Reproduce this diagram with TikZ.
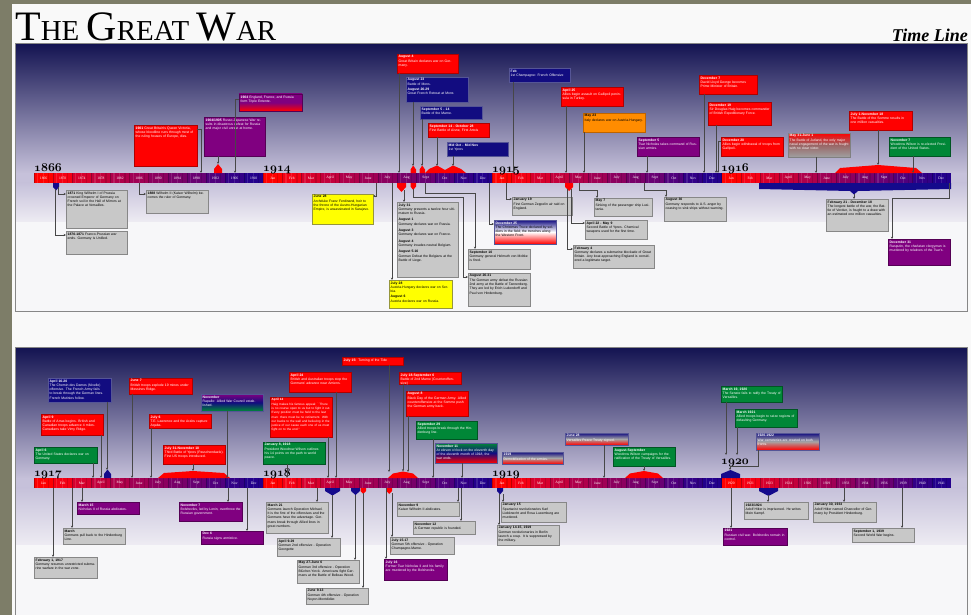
\documentclass[tikz,border=0pt]{standalone}
\usepackage{graphicx}
\usepackage{fontspec}
\setmainfont{Liberation Serif}
\newfontfamily\boxfont{Liberation Sans}
\usetikzlibrary{arrows.meta}
\definecolor{bgolive}{RGB}{125,125,104}
\definecolor{pagewhite}{RGB}{249,249,249}
\definecolor{navyA}{RGB}{20,20,82}
\definecolor{lavA}{RGB}{198,193,218}
\definecolor{lavB}{RGB}{238,236,243}
\definecolor{panelwhite}{RGB}{247,247,249}
\definecolor{framegray}{RGB}{135,135,135}
\definecolor{boxgray}{RGB}{200,200,200}
\definecolor{boxgrayd}{RGB}{135,135,135}
\definecolor{evred}{RGB}{255,0,0}
\definecolor{evredd}{RGB}{175,0,0}
\definecolor{evnavy}{RGB}{18,12,128}
\definecolor{evnavyd}{RGB}{85,85,150}
\definecolor{evpurple}{RGB}{128,0,128}
\definecolor{evpurpled}{RGB}{85,0,85}
\definecolor{evgreen}{RGB}{0,135,55}
\definecolor{evgreend}{RGB}{0,85,35}
\definecolor{evorange}{RGB}{255,140,0}
\definecolor{evoranged}{RGB}{190,100,0}
\definecolor{evyellow}{RGB}{255,255,0}
\definecolor{evyellowd}{RGB}{150,150,60}
\definecolor{mkblue}{RGB}{20,10,140}
\definecolor{mkred}{RGB}{255,0,0}
\definecolor{seg0}{RGB}{255,0,0}
\definecolor{seg1}{RGB}{245,0,20}
\definecolor{seg2}{RGB}{215,0,45}
\definecolor{seg3}{RGB}{195,0,60}
\definecolor{seg4}{RGB}{175,0,75}
\definecolor{seg5}{RGB}{160,0,85}
\definecolor{seg6}{RGB}{140,0,95}
\definecolor{seg7}{RGB}{120,0,105}
\definecolor{seg8}{RGB}{105,0,115}
\definecolor{seg9}{RGB}{80,0,125}
\definecolor{seg10}{RGB}{50,0,135}
\definecolor{seg11}{RGB}{35,0,140}

\newcommand\ev[8]{%
  \pgfmathsetmacro\evw{#4-#2}%
  \pgfmathsetmacro\evh{#5-#3}%
  \pgfmathsetmacro\evt{#4-#2-3}%
  \node[#6, anchor=north west, minimum width=\evw pt, minimum height=\evh pt, inner sep=0pt, outer sep=0pt] (#1) at (#2,#3) {};
  \node[evtext, text=#7, text width=\evt pt, anchor=north west] at ([xshift=1.5pt,yshift=-1.4pt]#1.north west) {#8};}

\newcommand\barsec[3]{%
  \foreach \lab [count=\i from 0] in {#3} {%
    \pgfmathsetmacro\xa{#1+\i*19.1}%
    \fill[seg\i] (\xa,#2) rectangle ++(19.15,10);
    \fill[white,opacity=.12] (\xa+3,#2) rectangle ++(1.2,10);
    \fill[white,opacity=.12] (\xa+9,#2) rectangle ++(0.8,10);
    \fill[black,opacity=.12] (\xa+14,#2) rectangle ++(1.2,10);
    \draw[black,opacity=.25,line width=.4pt] (\xa,#2) -- ++(0,10);
    \node[barlab] at (\xa+9.55,#2+5) {\lab};
  }}

\begin{document}
\begin{tikzpicture}[x=1pt,y=-1pt,
  conn/.style={draw=black!72, line width=.45pt, -{Stealth[length=2.4pt,width=2.2pt]}},
  gbox/.style={fill=boxgray, draw=boxgrayd, line width=.5pt},
  rbox/.style={fill=evred, draw=evredd, line width=.5pt},
  nbox/.style={fill=evnavy, draw=evnavyd, line width=.5pt},
  pbox/.style={fill=evpurple, draw=evpurpled, line width=.5pt},
  grbox/.style={fill=evgreen, draw=evgreend, line width=.5pt},
  obox/.style={fill=evorange, draw=evoranged, line width=.5pt},
  ybox/.style={fill=evyellow, draw=evyellowd, line width=.5pt},
  gradPR/.style={top color=evpurple, bottom color=evred, middle color=evpurple, draw=evpurpled, line width=.5pt},
  gradRG/.style={top color=evred, bottom color=gray!75, middle color=gray!80!red, draw=gray, line width=.5pt},
  gradNWR/.style={top color=evnavy, bottom color=evred, middle color=white, draw=evnavyd, line width=.5pt},
  gradPNG/.style={top color=evpurple, bottom color=evgreen, middle color=evnavy, draw=evnavyd, line width=.5pt},
  gradGNR/.style={top color=evgreen, bottom color=evred, middle color=evnavy, draw=evnavyd, line width=.5pt},
  gradNGR/.style={top color=evnavy, bottom color=evred, middle color=gray!70, draw=evnavyd, line width=.5pt},
  evtext/.style={inner sep=0pt, align=left, font=\boxfont\fontsize{3.4}{4.3}\selectfont},
  barlab/.style={text=white, font=\fontsize{3.6}{4}\selectfont, inner sep=0pt},
  yearlab/.style={inner sep=0pt, anchor=base west, font=\fontsize{12}{12}\usefont{OML}{cmm}{b}{it}},
]
\useasboundingbox (0,0) rectangle (971,615);
% page
\fill[bgolive] (0,0) rectangle (971,615);
\fill[pagewhite] (12,4) rectangle (971,615);
% title
\node[anchor=south west, inner sep=0pt] (title) at (15,41) {\resizebox{261pt}{!}{\fontsize{42}{42}\selectfont T\fontsize{29}{29}\selectfont HE \fontsize{42}{42}\selectfont G\fontsize{29}{29}\selectfont REAT \fontsize{42}{42}\selectfont W\fontsize{29}{29}\selectfont AR}};
\node[anchor=south east, inner sep=0pt] (subtitle) at (968,42) {\fontsize{18}{18}\selectfont\bfseries\itshape Time Line};

% ---------- panel 1 ----------
\shade[top color=navyA, bottom color=lavA] (16,44) rectangle (967,173.5);
\fill[lavA] (16,173) rectangle (967,183);
\shade[top color=lavA, bottom color=lavB] (16,182.8) rectangle (967,222);
\fill[panelwhite] (16,221.8) rectangle (967,311);
\draw[framegray, line width=1.3pt] (15.5,43.5) rectangle (967.5,311.5);

% ---------- panel 2 ----------
\shade[top color=navyA, bottom color=lavA] (16,348) rectangle (967,478.5);
\fill[lavA] (16,478) rectangle (967,488);
\shade[top color=lavA, bottom color=lavB] (16,487.8) rectangle (967,545);
\fill[panelwhite] (16,544.8) rectangle (967,616);
\draw[framegray, line width=1.3pt] (15.5,616) -- (15.5,347.5) -- (967.5,347.5) -- (967.5,616);

% ---------- bars ----------
\barsec{34}{173}{1866,1870,1874,1878,1882,1886,1890,1894,1898,1902,1906,1910}
\barsec{263.2}{173}{Jan,Feb,Mar,April,May,June,July,Aug,Sept,Oct,Nov,Dec}
\barsec{492.4}{173}{Jan,Feb,Mar,April,May,June,July,Aug,Sept,Oct,Nov,Dec}
\barsec{721.6}{173}{Jan,Feb,Mar,April,May,June,July,Aug,Sept,Oct,Nov,Dec}
\barsec{34}{478}{Jan,Feb,Mar,April,May,June,July,Aug,Sept,Oct,Nov,Dec}
\barsec{263.2}{478}{Jan,Feb,Mar,April,May,June,July,Aug,Sept,Oct,Nov,Dec}
\barsec{492.4}{478}{Jan,Feb,Mar,April,May,June,July,Aug,Sept,Oct,Nov,Dec}
\barsec{721.6}{478}{1920,1921,1923,1924,1926,1929,1933,1934,1936,1939,1940,1941}

% year labels
\node[yearlab] (y1866) at (34,171) {1866};
\node[yearlab] (y1914) at (263,171) {1914};
\node[yearlab] (y1915) at (492,172) {1915};
\node[yearlab] (y1916) at (721,171) {1916};
\node[yearlab] (y1917) at (34,476) {1917};
\node[yearlab] (y1918) at (263,476) {1918};
\node[yearlab] (y1919) at (492,476) {1919};
\node[yearlab] (y1920) at (721,464) {1920};

% ---------- markers panel 1 ----------
\fill[mkblue] (53,183) -- (59,183) -- (59,187) -- (56,190.5) -- (53,187) -- cycle;
\fill[mkred] (214,173) -- (214,169) -- (218,164) -- (222,169) -- (222,173) -- cycle;
\fill[mkred] (397,183) -- (406,183) -- (406,187) -- (401.5,192) -- (397,187) -- cycle;
\fill[mkred] (410.5,183) -- (416,183) -- (416,186.5) -- (413.2,190) -- (410.5,186.5) -- cycle;
\fill[mkred] (410.5,173) -- (410.5,169.5) -- (413.2,165.5) -- (416,169.5) -- (416,173) -- cycle;
\fill[mkred] (419.5,173) -- (419.5,169.5) -- (422.2,165.5) -- (425,169.5) -- (425,173) -- cycle;
\fill[mkred] (425,173) -- (429,169) -- (437,165.5) -- (445,170) -- (453,165.5) -- (461,169) -- (466,173) -- cycle;
\fill[mkred] (565,183) -- (573,183) -- (573,187) -- (569,191) -- (565,187) -- cycle;
\fill[mkred] (835,173) -- (840,168) -- (878,165) -- (916,168) -- (922,173) -- cycle;
\fill[mkblue] (759,183) -- (951,183) -- (951,189) -- (858,191) -- (854,194.5) -- (850,191) -- (759,189) -- cycle;

% ---------- markers panel 2 ----------
\fill[mkblue] (104,478) -- (104,474) -- (107.5,469.5) -- (111,474) -- (111,478) -- cycle;
\fill[mkred] (158,478) -- (164,473) -- (193,471) -- (224,473) -- (230,478) -- cycle;
\fill[mkred] (388,478) -- (393,473.5) -- (403,471.5) -- (413,473.5) -- (418,478) -- cycle;
\fill[mkred] (625,478) -- (630,473.5) -- (644,471) -- (658,473.5) -- (663,478) -- cycle;
\fill[mkblue] (721,478) -- (721,474) -- (730.5,470) -- (740,474) -- (740,478) -- cycle;
\fill[mkblue] (325,488) -- (340,488) -- (340,491) -- (332.5,495.5) -- (325,491) -- cycle;
\fill[mkblue] (351,488) -- (360,488) -- (360,491) -- (355.5,495) -- (351,491) -- cycle;
\fill[mkred] (360.5,488) -- (366,488) -- (366,491) -- (363.2,494) -- (360.5,491) -- cycle;
\fill[mkred] (386.5,488) -- (392,488) -- (392,491) -- (389.2,494) -- (386.5,491) -- cycle;
\fill[mkblue] (497,488) -- (503,488) -- (503,491) -- (500,494.5) -- (497,491) -- cycle;
\fill[mkblue] (759,488) -- (778,488) -- (778,491) -- (768.5,496) -- (759,491) -- cycle;

% ---------- events panel 1, above ----------
\ev{T1}{134}{125}{197}{166}{rbox}{white}{\textbf{1901} Great Britain's Queen Victoria, whose bloodline runs through most of the ruling houses of Europe, dies.}
\ev{T2}{204}{117}{265}{156}{pbox}{white}{\textbf{1904/1905} Russo-Japanese War results in disastrous defeat for Russia and major civil unrest at home.}
\ev{T3}{239}{94}{302}{111}{gradPR}{white}{\textbf{1904} England, France, and Russia form Triple Entente.}
\ev{T4}{397}{54}{458}{73}{rbox}{white}{\textbf{August 4}\\Great Britain declares war on Germany.}
\ev{T5}{406}{77}{468}{102}{nbox}{white}{\textbf{August 23}\\Battle of Mons.\\[1pt]\textbf{August 26-29}\\Great French Retreat at Mons}
\ev{T6}{420}{106}{482}{119}{nbox}{white}{\textbf{September 5 - 14}\\Battle of the Marne.}
\ev{T7}{428}{123}{489}{137}{rbox}{white}{\textbf{September 14 - October 28}\\First Battle of Aisne, First Artois}
\ev{T8}{447}{142}{508}{156}{nbox}{white}{\textbf{Mid Oct - Mid Nov}\\1st Ypres}
\ev{T9}{509}{68}{570}{82}{nbox}{white}{\textbf{Feb}\\1st Champagne: French Offensive}
\ev{T10}{561}{87}{623}{106}{rbox}{white}{\textbf{April 25}\\Allies begin assault on Gallipoli peninsula in Turkey.}
\ev{T11}{583}{113}{645}{132}{obox}{black}{\textbf{May 23}\\Italy declares war on Austria-Hungary.}
\ev{T12}{637}{137}{699}{156}{pbox}{white}{\textbf{September 5}\\Tsar Nicholas takes command of Russian armies.}
\ev{T13}{699}{75}{757}{94}{rbox}{white}{\textbf{December 7}\\David Lloyd George becomes Prime Minister of Britain.}
\ev{T14}{708}{102}{771}{125}{rbox}{white}{\textbf{December 19}\\Sir Douglas Haig becomes commander of British Expeditionary Force.}
\ev{T15}{721}{137}{783}{156}{rbox}{white}{\textbf{December 20}\\Allies begin withdrawal of troops from Gallipoli.}
\ev{T16}{788}{133}{850}{157}{gradRG}{white}{\textbf{May 31-June 1}\\The Battle of Jutland, the only major naval engagement of the war is fought with no clear victor.}
\ev{T17}{849}{111}{912}{130}{rbox}{white}{\textbf{July 1-November 18}\\The Battle of the Somme results in one million casualties.}
\ev{T18}{889}{137}{950}{156}{grbox}{white}{\textbf{November 7}\\Woodrow Wilson is re-elected President of the United States.}

% ---------- events panel 1, below ----------
\ev{B1}{66}{190}{127}{228}{gbox}{black}{\textbf{1871} King Wilhelm I of Prussia crowned Emperor of Germany on French soil in the Hall of Mirrors at the Palace at Versailles.}
\ev{B2}{66}{231}{127}{254}{gbox}{black}{\textbf{1870-1871} Franco-Prussian war ends. Germany is Unified.}
\ev{B3}{146}{190}{208}{213}{gbox}{black}{\textbf{1888} Wilhelm II (Kaiser Wilhelm) becomes the ruler of Germany.}
\ev{B4}{312}{194}{373}{224}{ybox}{black}{\textbf{June 28}\\Archduke Franz Ferdinand, heir to the throne of the Austro-Hungarian Empire, is assassinated in Sarajevo.}
\ev{B5}{397}{202}{458}{277}{gbox}{black}{\textbf{July 31}\\Germany presents a twelve hour ultimatum to Russia.\\[2pt]\textbf{August 1}\\Germany declares war on Russia.\\[2pt]\textbf{August 3}\\Germany declares war on France.\\[2pt]\textbf{August 4}\\Germany invades neutral Belgium.\\[2pt]\textbf{August 5-16}\\German Defeat the Belgians at the Battle of Liege.}
\ev{B6}{389}{280}{452}{308}{ybox}{black}{\textbf{July 28}\\Austria-Hungary declares war on Serbia.\\[1pt]\textbf{August 6}\\Austria declares war on Russia.}
\ev{B7}{468}{249}{530}{269}{gbox}{black}{\textbf{September 10}\\Germany general Helmuth von Moltke is fired.}
\ev{B8}{468}{273}{530}{306}{gbox}{black}{\textbf{August 26-31}\\The German army defeat the Russian 2nd army at the Battle of Tannenberg. They are led by Erich Ludendorff and Paul von Hindenburg.}
\ev{B9}{494}{220}{556}{244}{gradNWR}{black}{\textcolor{white}{\textbf{December 25}}\\The Christmas Truce declared by soldiers in the field; the trenches along the Western Front.}
\ev{B10}{512}{197}{572}{215}{gbox}{black}{\textbf{January 19}\\First German Zeppelin air raid on England.}
\ev{B11}{573}{245}{654}{268}{gbox}{black}{\textbf{February 4}\\Germany declares a submarine blockade of Great Britain. Any boat approaching England is considered a legitimate target.}
\ev{B12}{585}{220}{647}{239}{gbox}{black}{\textbf{April 22 - May 9}\\Second Battle of Ypres. Chemical weapons used for the first time.}
\ev{B13}{594}{198}{652}{216}{gbox}{black}{\textbf{May 7}\\Sinking of the passenger ship Lusitania.}
\ev{B14}{664}{197}{726}{221}{gbox}{black}{\textbf{August 30}\\Germany responds to U.S. anger by ceasing to sink ships without warning.}
\ev{B15}{826}{199}{888}{231}{gbox}{black}{\textbf{February 21 - December 18}\\The longest battle of the war, the Battle of Verdun, is fought to a draw with an estimated one million casualties.}
\ev{B16}{888}{239}{950}{265}{pbox}{white}{\textbf{December 31}\\Rasputin, the charlatan clergyman is murdered by relatives of the Tsar's.}

% ---------- events panel 2, above ----------
\ev{U1}{34}{447}{97}{463}{grbox}{white}{\textbf{April 6}\\The United States declares war on Germany.}
\ev{U2}{41}{414}{103}{435}{rbox}{white}{\textbf{April 9}\\Battle of Arras begins. British and Canadian troops advance 4 miles. Canadians take Vimy Ridge.}
\ev{U3}{48}{378}{111}{402}{nbox}{white}{\textbf{April 16-20}\\The Chemin des Dames (Nivelle) offensive. The French Army fails to break through the German lines. French Mutinies follow.}
\ev{U4}{129}{378}{192}{394}{rbox}{white}{\textbf{June 7}\\British troops explode 19 mines under Messines Ridge.}
\ev{U5}{149}{414}{211}{428}{rbox}{white}{\textbf{July 6}\\T.E. Lawrence and the Arabs capture Aqaba.}
\ev{U6}{163}{445}{225}{464}{rbox}{white}{\textbf{July 31-November 10}\\Third Battle of Ypres (Passchendaele). First US troops introduced.}
\ev{U7}{201}{394}{263}{411}{gradPNG}{white}{\textbf{November}\\Rapallo: Allied War Council established.}
\ev{U8}{263}{442}{325}{464}{grbox}{white}{\textbf{January 8, 1918}\\President Woodrow Wilson outlines his 14 points on the path to world peace.}
\ev{U9}{270}{397}{332}{437}{rbox}{white}{\fontsize{3.1}{4.05}\selectfont\textbf{April 12}\\Haig makes his famous appeal: ``There is no course open to us but to fight it out. Every position must be held to the last man: there must be no retirement. With our backs to the wall and believing in the justice of our cause each one of us must fight on to the end.''}
\ev{U10}{289}{372}{351}{392}{rbox}{white}{\textbf{April 24}\\British and Australian troops stop the Germans' advance near Amiens.}
\ev{U11}{342}{357}{403}{365}{rbox}{white}{\textbf{July 15:} Turning of the Tide}
\ev{U12}{399}{372}{461}{384}{rbox}{white}{\textbf{July 18-September 6}\\Battle of 2nd Marne (Counteroffensive)}
\ev{U13}{406}{391}{468}{416}{rbox}{white}{\textbf{August 8}\\Black Day of the German Army. Allied counteroffensive at the Somme push the German army back.}
\ev{U14}{416}{421}{477}{439}{grbox}{white}{\textbf{September 29}\\Allied troops break through the Hindenburg line.}
\ev{U15}{435}{443}{497}{463}{gradGNR}{white}{\textbf{November 11}\\At eleven o'clock on the eleventh day of the eleventh month of 1918, the war ends.}
\ev{U16}{502}{452}{563}{464}{gradNGR}{white}{\textbf{1919}\\Demobilization of the armies.}
\ev{U17}{565}{433}{628}{445}{gradNGR}{white}{\textbf{June 28}\\Versailles Peace Treaty signed.}
\ev{U18}{613}{447}{675}{466}{grbox}{white}{\textbf{August-September}\\Woodrow Wilson campaigns for the ratification of the Treaty of Versailles.}
\ev{U19}{721}{386}{782}{402}{grbox}{white}{\textbf{March 19, 1920}\\The Senate fails to ratify the Treaty of Versailles.}
\ev{U20}{735}{409}{797}{427}{grbox}{white}{\textbf{March 1921}\\Allied troops begin to seize regions of defaulting Germany.}
\ev{U21}{756}{433}{819}{450}{gradNGR}{white}{\textbf{1920-1922}\\War cemeteries are created on both fronts.}

% ---------- events panel 2, below ----------
\ev{D1}{34}{557}{97}{578}{gbox}{black}{\textbf{February 1, 1917}\\Germany resumes unrestricted submarine warfare in the war zone.}
\ev{D2}{63}{528}{125}{544}{gbox}{black}{\textbf{March}\\Germans pull back to the Hindenburg Line.}
\ev{D3}{77}{502}{139}{514}{pbox}{white}{\textbf{March 15}\\Nicholas II of Russia abdicates.}
\ev{D4}{179}{502}{242}{521}{pbox}{white}{\textbf{November 7}\\Bolsheviks, led by Lenin, overthrow the Russian government.}
\ev{D5}{201}{531}{263}{544}{pbox}{white}{\textbf{Dec 6}\\Russia signs armistice.}
\ev{D6}{266}{502}{328}{533}{gbox}{black}{\textbf{March 21}\\Germans launch Operation Michael. It is the first of the offensives and the Germans have the advantage. Germans break through Allied lines in great numbers.}
\ev{D7}{277}{538}{340}{556}{gbox}{black}{\textbf{April 9-29}\\German 2nd offensive - Operation Georgette}
\ev{D8}{297}{560}{359}{583}{gbox}{black}{\textbf{May 27-June 6}\\German 3rd offensive - Operation Blücher-Yorck. Americans fight Germans at the Battle of Belleau Wood.}
\ev{D9}{306}{588}{368}{604}{gbox}{black}{\textbf{June 9-13}\\German 4th offensive - Operation Noyon-Montdidier.}
\ev{D10}{390}{537}{454}{554}{gbox}{black}{\textbf{July 15-17}\\German 5th offensive - Operation Champagne-Marne.}
\ev{D11}{384}{559}{447}{580}{pbox}{white}{\textbf{July 16}\\Former Tsar Nicholas II and his family are murdered by the Bolsheviks.}
\ev{D12}{397}{502}{459}{516}{gbox}{black}{\textbf{November 9}\\Kaiser Wilhelm II abdicates.}
\ev{D13}{413}{521}{475}{534}{gbox}{black}{\textbf{November 12}\\A German republic is founded.}
\ev{D14}{501}{502}{566}{522}{gbox}{black}{\textbf{January 15}\\Spartacist revolutionaries Karl Liebknecht and Rosa Luxemburg are murdered.}
\ev{D15}{497}{525}{559}{545}{gbox}{black}{\textbf{January 14-15, 1919}\\German revolutionaries in Berlin launch a coup. It is suppressed by the military.}
\ev{D16}{723}{528}{787}{545}{pbox}{white}{\textbf{1921}\\Russian civil war. Bolsheviks remain in control.}
\ev{D17}{744}{502}{808}{519}{gbox}{black}{\textbf{1923/1924}\\Adolf Hitler is imprisoned. He writes Mein Kampf.}
\ev{D18}{813}{502}{876}{522}{gbox}{black}{\textbf{January 30, 1933}\\Adolf Hitler named Chancellor of Germany by President Hindenburg.}
\ev{D19}{852}{528}{914}{542}{gbox}{black}{\textbf{September 1, 1939}\\Second World War begins.}

% ---------- connectors panel 1 ----------
\draw[conn] ([yshift=-4pt]T1.north east) -| (201,173);
\draw[conn] (218,0 |- T2.south) -- (218,164);
\draw[conn] ([yshift=-5pt]T3.north west) -| (235,173);
\draw[conn] (399,0 |- T4.south) -- (399,173);
\draw[conn] (413,0 |- T5.south) -- (413,166);
\draw[conn] (422,0 |- T6.south) -- (422,166);
\draw[conn] (437,0 |- T7.south) -- (437,166);
\draw[conn] (453,0 |- T8.south) -- (453,166);
\draw[conn] (513,0 |- T9.south) -- (513,173);
\draw[conn] (566,0 |- T10.south) -- (566,173);
\draw[conn] (584,0 |- T11.south) -- (584,173);
\draw[conn] (647,0 |- T12.south) -- (647,173);
\draw[conn] (704,0 |- T13.south) -- (704,173);
\draw[conn] (716,0 |- T14.south) -- (716,173);
\draw[conn] ([yshift=-4pt]T15.north west) -| (718,173);
\draw[conn] (816,0 |- T16.south) -- (816,173);
\draw[conn] (878,0 |- T17.south) -- (878,165);
\draw[conn] (913,0 |- T18.south) -- (913,173);

\draw[conn] (58,187) |- ([yshift=-4pt]B1.north west);
\draw[conn] (55,189) |- ([yshift=-4pt]B2.north west);
\draw[conn] (139,183) |- ([yshift=-4pt]B3.north west);
\draw[conn] (376,183) |- ([yshift=-2pt]B4.north east);
\draw[conn] (404,190) -- (404,0 |- B5.north);
\draw[conn] (392,183) -- (392,0 |- B6.north);
\draw[conn] (425,183) -- (425,193) -| (475,0 |- B7.north);
\draw[conn] (413,189) -- (413,197) -- (463,197) |- ([yshift=-4pt]B8.north west);
\draw[conn] (489,183) |- ([yshift=-4pt]B9.north west);
\draw[conn] (506,183) |- ([yshift=-2pt]B10.north west);
\draw[conn] (567,189) |- ([yshift=-4pt]B11.north west);
\draw[conn] (571,189) |- ([yshift=-3pt]B12.north west);
\draw[conn] (579,183) -- (579,190) -| (597,0 |- B13.north);
\draw[conn] (644,183) -- (644,190) -| (666,0 |- B14.north);
\draw[conn] (854,194) -- (854,0 |- B15.north);
\draw[conn] (949,183) -- (949,198) -| (892,0 |- B16.north);

% ---------- connectors panel 2 ----------
\draw[conn] (93,0 |- U1.south) -- (93,478);
\draw[conn] (101,0 |- U2.south) -- (101,478);
\draw[conn] (107,0 |- U3.south) -- (107,470);
\draw[conn] (132,0 |- U4.south) -- (132,478);
\draw[conn] (151,0 |- U5.south) -- (151,478);
\draw[conn] (193,0 |- U6.south) -- (193,471);
\draw[conn] (227,0 |- U7.south) -- (227,478);
\draw[conn] (287,0 |- U8.south) -- (287,478);
\draw[conn] (328,0 |- U9.south) -- (328,478);
\draw[conn] (336,0 |- U10.south) -- (336,478);
\draw[conn] (389,0 |- U11.south) -- (389,472);
\draw[conn] (403,0 |- U12.south) -- (403,471.5);
\draw[conn] (408,0 |- U13.south) -- (408,472);
\draw[conn] (433,0 |- U14.south) -- (433,478);
\draw[conn] (462,0 |- U15.south) -- (462,478);
\draw[conn] (604,0 |- U17.south) -- (604,478);
\draw[conn] (644,0 |- U18.south) -- (644,471);
\draw[conn] (726,0 |- U19.south) -- (726,455);
\draw[conn] (737,0 |- U20.south) -- (737,455);
\draw[conn] (758,0 |- U21.south) -- (758,466) -| (730,470);

\draw[conn] (53,488) -- (53,0 |- D1.north);
\draw[conn] (72,488) -- (72,0 |- D2.north);
\draw[conn] (82,488) -- (82,0 |- D3.north);
\draw[conn] (228,488) -- (228,0 |- D4.north);
\draw[conn] (247,488) -- (247,0 |- D5.north);
\draw[conn] (317,488) -- (317,0 |- D6.north);
\draw[conn] (332,495) -- (332,0 |- D7.north);
\draw[conn] (355,495) -- (355,0 |- D8.north);
\draw[conn] (363,493) -- (363,0 |- D9.north);
\draw[conn] (392,493) -- (392,0 |- D10.north);
\draw[conn] (386,488) -- (386,0 |- D11.north);
\draw[conn] (458,488) -- (458,0 |- D12.north);
\draw[conn] (461,488) -- (461,0 |- D13.north);
\draw[conn] (503,494) -- (503,0 |- D14.north);
\draw[conn] (499,494) -- (499,0 |- D15.north);
\draw[conn] (731,488) -- (731,0 |- D16.north);
\draw[conn] (768,495) -- (768,0 |- D17.north);
\draw[conn] (844,488) -- (844,0 |- D18.north);
\draw[conn] (902,488) -- (902,0 |- D19.north);
\end{tikzpicture}
\end{document}
